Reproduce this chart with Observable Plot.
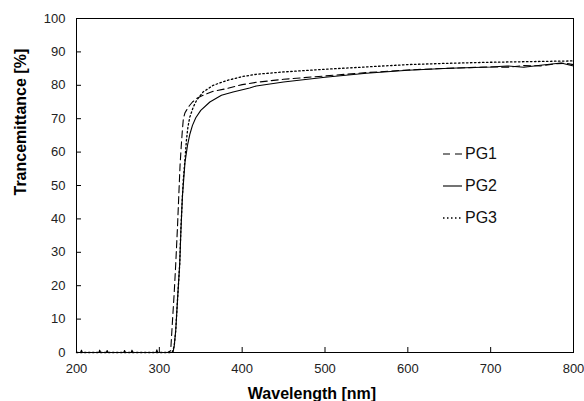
<!DOCTYPE html>
<html>
<head>
<meta charset="utf-8">
<script src="https://cdn.jsdelivr.net/npm/d3@7"></script>
<script src="https://cdn.jsdelivr.net/npm/@observablehq/plot@0.6"></script>
<style>
  body { margin: 0; background: #fff; }
  #wrap { position: relative; width: 584px; height: 401px; font-family: "Liberation Sans", Arial, sans-serif; }
  #legend { position: absolute; left: 443px; top: 144px; }
  .row { display: flex; align-items: center; height: 20px; margin-bottom: 12px; }
  .row span { font-size: 16px; line-height: 20px; margin-left: 3px; color: #111; }
</style>
</head>
<body>
<div id="wrap"></div>
<script>
// ---- data ----
const xTicks = [200, 300, 400, 500, 600, 700, 800];
const yTicks = [0, 10, 20, 30, 40, 50, 60, 70, 80, 90, 100];
const seriesNames = ["PG1", "PG2", "PG3"];

const pg1Wl = [200, 310, 313.7, 316, 318, 319.8, 322, 323.4, 325, 326.5, 327.8, 329, 331, 332.7, 336, 340, 346, 352.8, 365, 381, 400, 417, 450, 500, 550, 600, 650, 700, 720, 740, 760, 780, 790, 800];
const pg1T  = [0, 0, 0.5, 10, 18, 26.5, 38, 46.5, 56, 62, 66.5, 70, 71.8, 72.5, 73.8, 75, 76.2, 77, 78.2, 79, 80.2, 80.9, 81.8, 82.8, 83.8, 84.6, 85.1, 85.5, 85.4, 85.9, 85.8, 86.5, 86.6, 86.2];

const pg2Wl = [200, 205, 206, 207, 227, 228, 229, 236, 237, 238, 257, 258, 259, 266, 267, 268, 296, 297, 298, 316.5, 318, 319.8, 322, 324.6, 326, 327.8, 329.5, 331, 334, 337, 340, 344, 350, 361, 375, 389, 409, 417, 450, 500, 550, 600, 650, 700, 720, 740, 760, 785, 800];
const pg2T  = [0, 0, 0.7, 0, 0, 0.7, 0, 0, 0.6, 0, 0, 0.6, 0, 0, 0.7, 0, 0, 0.8, 0, 0, 2, 6.6, 16, 26.5, 36, 46.5, 52, 57, 62, 65.5, 68, 70.3, 72.5, 75, 77, 78, 79.2, 79.8, 81, 82.4, 83.6, 84.5, 85.1, 85.5, 85.8, 85.4, 86, 86.7, 85.8];

const pg3Wl = [200, 315.5, 318, 319.8, 322, 324.6, 326, 327.8, 329, 331, 332.7, 334.5, 336.7, 341, 345, 352.8, 365, 381, 400, 417, 450, 500, 550, 600, 650, 700, 750, 800];
const pg3T  = [0, 0, 2, 6.6, 16, 26.5, 37, 46.5, 52, 58, 63.5, 67.5, 70.4, 73.5, 75.5, 78, 80, 81.4, 82.6, 83.3, 84, 84.8, 85.5, 86.2, 86.6, 86.9, 87.1, 87.3];

// ---- build table ----
const rows = [];
[[pg1Wl, pg1T], [pg2Wl, pg2T], [pg3Wl, pg3T]].forEach(([wl, t], i) => {
  wl.forEach((w, j) => rows.push({series: seriesNames[i], wl: w, t: t[j]}));
});

const dash = {PG1: "7,4", PG2: null, PG3: "1.5,2.5"};
const width = {PG1: 1.1, PG2: 1.1, PG3: 1.3};

const lineMarks = seriesNames.map(s => Plot.line(rows.filter(r => r.series === s), {
  x: "wl", y: "t", stroke: "#000", strokeWidth: width[s], strokeDasharray: dash[s]
}));

const chart = Plot.plot({
  width: 584,
  height: 401,
  marginLeft: 76,
  marginRight: 11,
  marginTop: 18,
  marginBottom: 49,
  style: {fontFamily: "'Liberation Sans', Arial, sans-serif", fontSize: "13px", color: "#222", background: "#fff"},
  x: {domain: [200, 800]},
  y: {domain: [0, 100]},
  marks: [
    ...lineMarks,
    Plot.frame({stroke: "#000", strokeWidth: 1}),
    Plot.axisX({ticks: xTicks, tickSize: -5, tickPadding: 16, label: null, fontSize: 13, stroke: "#000"}),
    Plot.axisY({ticks: yTicks, tickSize: -5, tickPadding: 16, label: null, fontSize: 13, stroke: "#000"}),
    Plot.text(["Wavelength [nm]"], {text: d => d, frameAnchor: "bottom", dx: -13, dy: 41, lineAnchor: "middle", fontWeight: "bold", fontSize: 16, fill: "#000"}),
    Plot.text(["Trancemittance [%]"], {text: d => d, frameAnchor: "left", rotate: -90, dx: -56, dy: 10, lineAnchor: "middle", fontWeight: "bold", fontSize: 16, fill: "#000"})
  ]
});

const wrap = document.getElementById("wrap");
wrap.appendChild(chart);

// legend
const legend = d3.select(wrap).append("div").attr("id", "legend");
seriesNames.forEach(s => {
  const row = legend.append("div").attr("class", "row");
  const svg = row.append("svg").attr("width", 19).attr("height", 20);
  svg.append("line").attr("x1", 0).attr("x2", 19).attr("y1", 10).attr("y2", 10)
    .attr("stroke", "#000").attr("stroke-width", width[s])
    .attr("stroke-dasharray", s === "PG1" ? "7,5" : dash[s]);
  row.append("span").text(s);
});
</script>
</body>
</html>
